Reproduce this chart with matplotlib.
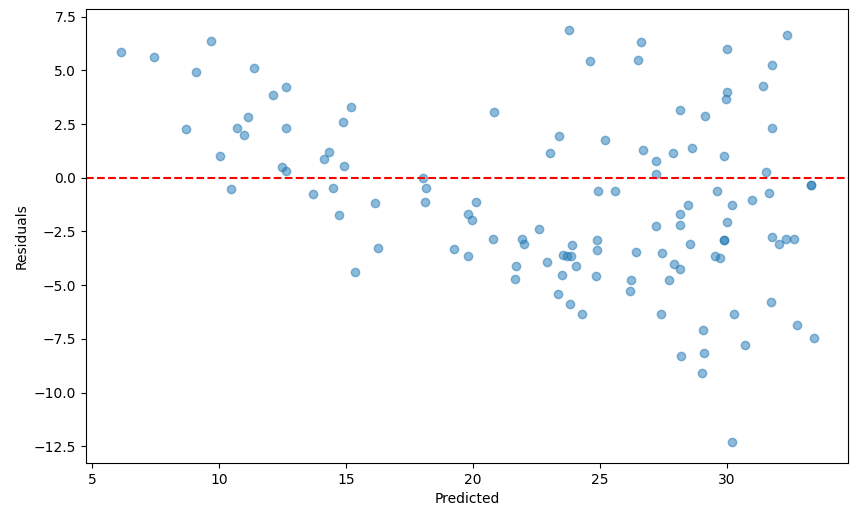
import numpy as np
import matplotlib
matplotlib.use("Agg")
import matplotlib.pyplot as plt

# valores (predicho, residuo)
predicted = [
    6.15, 7.43, 9.67, 9.09, 11.38, 12.11, 12.64, 8.70, 10.72, 11.14,
    11.00, 12.64, 14.87, 10.02, 12.49, 12.65, 14.32, 14.12, 14.90, 10.47,
    13.69, 14.48, 14.74,
    15.21, 23.79, 24.60, 20.84, 23.40, 23.04, 18.03, 18.15, 18.11, 16.13,
    19.80, 19.96, 20.10, 22.59, 24.90,
    26.61, 26.51, 30.01, 32.37, 31.76, 31.40, 30.01, 29.97, 28.16, 29.13,
    31.76, 25.18, 26.69, 27.86, 28.63, 27.20, 27.20, 29.89, 31.54, 33.31,
    33.31, 25.60, 29.59, 31.65, 30.21, 31.00, 28.46, 28.16, 28.15, 27.20,
    30.01,
    20.80, 21.94, 22.00, 16.25, 15.35, 19.26, 19.80, 21.70, 21.65, 22.90,
    23.91, 23.53, 23.69, 23.85, 24.07, 23.51, 23.36, 23.83, 24.30, 24.87,
    24.88, 24.84,
    26.40, 27.43, 28.54, 29.86, 29.86, 29.54, 29.72, 27.90, 28.15, 26.23,
    26.19, 27.73, 31.76, 32.03, 32.31, 32.62, 27.39, 30.29, 31.72, 32.77,
    33.43, 29.06, 30.71, 28.20, 29.10, 29.02, 30.21,
]
residuals = [
    5.83, 5.60, 6.34, 4.92, 5.09, 3.86, 4.23, 2.28, 2.31, 2.82,
    2.00, 2.31, 2.59, 1.00, 0.50, 0.30, 1.18, 0.86, 0.53, -0.53,
    -0.74, -0.48, -1.75,
    3.27, 6.88, 5.43, 3.04, 1.95, 1.13, -0.01, -0.48, -1.12, -1.16,
    -1.70, -1.98, -1.12, -2.39, -0.60,
    6.30, 5.47, 5.97, 6.65, 5.24, 4.28, 3.97, 3.67, 3.15, 2.87,
    2.31, 1.77, 1.27, 1.13, 1.37, 0.76, 0.17, 0.99, 0.27, -0.34,
    -0.34, -0.60, -0.60, -0.70, -1.25, -1.02, -1.28, -1.69, -2.20, -2.26,
    -2.06,
    -2.85, -2.85, -3.08, -3.27, -4.40, -3.32, -3.63, -4.12, -4.73, -3.90,
    -3.13, -3.60, -3.66, -3.66, -4.12, -4.53, -5.41, -5.86, -6.33, -2.90,
    -3.36, -4.59,
    -3.44, -3.49, -3.08, -2.90, -2.90, -3.63, -3.72, -4.03, -4.23, -4.77,
    -5.27, -4.77, -2.76, -3.08, -2.85, -2.85, -6.33, -6.33, -5.78, -6.84,
    -7.47, -7.10, -7.78, -8.29, -8.17, -9.07, -12.31,
]

fig = plt.figure(figsize=(8.58, 5.13), dpi=100)
ax = fig.add_axes([86 / 858, 1 - 463 / 513, 762 / 858, 454 / 513])

ax.scatter(predicted, residuals, alpha=0.5)
ax.axhline(y=0, color='r', linestyle='--')
ax.set_xlabel('Predicted')
ax.set_ylabel('Residuals')
ax.set_xlim(4.76, 34.76)
ax.set_ylim(-13.27, 7.85)

fig.savefig('out.png', dpi=100)
